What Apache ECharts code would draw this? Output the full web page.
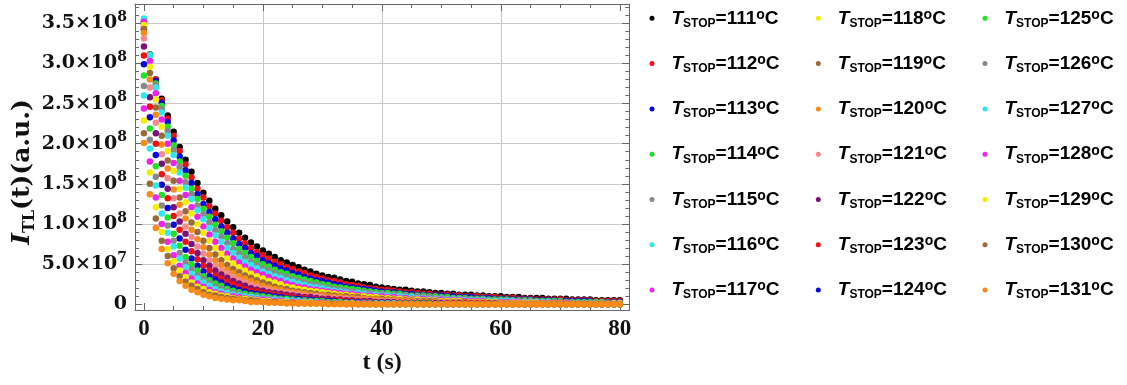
<!DOCTYPE html>
<html>
<head>
<meta charset="utf-8">
<script src="https://cdn.jsdelivr.net/npm/echarts@6.0.0/dist/echarts.min.js"></script>
<style>
html,body{margin:0;padding:0;background:#fff;}
#chart{width:1127px;height:385px;}
</style>
</head>
<body>
<div id="chart"></div>
<script>
// time axis (s)
const times = [
0,1,2,3,4,5,6,7,8,9,
10,11,12,13,14,15,16,17,18,19,
20,21,22,23,24,25,26,27,28,29,
30,31,32,33,34,35,36,37,38,39,
40,41,42,43,44,45,46,47,48,49,
50,51,52,53,54,55,56,57,58,59,
60,61,62,63,64,65,66,67,68,69,
70,71,72,73,74,75,76,77,78,79,
80];

// T_STOP values (°C)
const tStop = [111,112,113,114,115,116,117,118,119,120,121,122,123,124,125,126,127,128,129,130,131];

// I_TL(t) in units of 10^6 a.u.
const s111 = [
342,310,280,256,235,215,196,180,165,151,
139,129,119,111,103,96,89,83,77,72,
67,63,59,55,52,49,46,43,41,38,
36,34,33,31,29,28,26,25,24,22,
21,20,19,18,18,17,16,16,15,14,
14,13,13,12,12,12,11,11,10,10,
10,9,9,9,8,8,8,8,7,7,
7,7,6,6,6,6,5,5,5,5,
5];
const s112 = [
346,311,280,254,231,210,191,174,158,144,
133,122,113,104,96,89,82,76,70,65,
61,57,53,50,46,44,41,39,36,34,
32,30,29,27,25,24,23,21,20,19,
18,18,17,16,15,15,14,13,13,12,
12,12,11,11,10,10,10,9,9,9,
8,8,8,7,7,7,6,6,6,6,
6,5,5,5,5,5,4,4,4,4,
4];
const s113 = [
349,311,278,251,227,204,184,167,151,137,
125,115,106,97,89,82,75,70,64,60,
55,51,48,45,42,39,37,34,32,30,
29,27,25,24,22,21,20,19,18,17,
16,15,15,14,13,13,12,12,11,11,
11,10,10,9,9,9,8,8,8,7,
7,7,6,6,6,6,5,5,5,5,
4,4,4,4,4,4,3,3,3,3,
3];
const s114 = [
351,311,275,247,221,198,178,160,144,131,
119,109,99,91,83,76,69,64,59,54,
50,47,43,40,38,35,33,31,29,27,
25,24,22,21,20,19,18,17,16,15,
14,14,13,13,12,11,11,11,10,10,
9,9,8,8,8,7,7,7,6,6,
6,6,5,5,5,5,4,4,4,4,
4,3,3,3,3,3,3,3,2,2,
2];
const s115 = [
353,310,273,243,216,192,171,152,137,123,
112,102,92,84,76,69,63,58,53,49,
45,42,39,36,34,31,29,27,25,24,
22,21,19,18,17,16,15,15,14,13,
13,12,12,11,11,10,10,9,9,8,
8,7,7,7,7,6,6,6,5,5,
5,5,4,4,4,4,4,3,3,3,
3,3,3,2,2,2,2,2,2,2,
2];
const s116 = [
356,310,270,239,210,186,164,145,131,117,
106,95,86,78,70,64,58,53,49,45,
41,38,35,33,30,28,26,24,22,21,
20,18,17,16,15,14,14,13,12,12,
11,11,10,10,9,9,8,8,7,7,
7,6,6,6,5,5,5,5,4,4,
4,4,4,3,3,3,3,3,3,2,
2,2,2,2,2,2,2,2,1,1,
1];
const s117 = [
352,303,263,230,200,176,154,136,121,109,
97,87,78,70,63,57,52,47,43,40,
37,34,31,29,26,24,22,21,19,18,
17,16,15,14,13,13,12,11,11,10,
10,9,9,8,8,7,7,7,6,6,
6,5,5,5,4,4,4,4,3,3,
3,3,3,3,2,2,2,2,2,2,
2,2,1,1,1,1,1,1,1,1,
1];
const s118 = [
348,296,255,221,191,166,144,127,113,100,
89,79,70,63,57,51,46,42,38,35,
32,29,27,25,22,21,19,18,17,16,
15,14,13,12,12,11,10,10,9,9,
8,8,7,7,6,6,6,5,5,5,
4,4,4,4,3,3,3,3,3,3,
2,2,2,2,2,2,2,1,1,1,
1,1,1,1,1,1,1,1,1,1,
1];
const s119 = [
343,288,245,210,179,154,133,116,102,90,
79,70,62,55,49,44,40,36,33,30,
27,25,22,20,19,17,16,15,14,13,
12,12,11,10,10,9,9,8,7,7,
7,6,6,5,5,5,4,4,4,4,
3,3,3,3,3,2,2,2,2,2,
2,2,1,1,1,1,1,1,1,1,
1,1,1,1,1,1,1,1,1,0,
0];
const s120 = [
338,280,236,199,169,143,124,107,93,81,
71,62,55,49,43,39,35,32,29,26,
23,21,19,18,16,15,14,13,12,11,
11,10,9,9,8,8,7,7,6,6,
5,5,5,4,4,4,3,3,3,3,
3,2,2,2,2,2,2,2,1,1,
1,1,1,1,1,1,1,1,1,1,
1,0,0,0,0,0,0,0,0,0,
0];
const s121 = [
331,270,226,187,157,132,113,97,84,72,
63,55,48,42,38,34,30,27,24,22,
19,18,16,15,14,13,12,11,10,10,
9,8,8,7,7,6,6,5,5,4,
4,4,4,3,3,3,3,2,2,2,
2,2,2,1,1,1,1,1,1,1,
1,1,1,1,1,0,0,0,0,0,
0,0,0,0,0,0,0,0,0,0,
0];
const s122 = [
321,258,213,175,144,121,103,88,75,64,
55,48,42,37,33,29,26,23,20,18,
17,15,14,13,12,11,10,9,9,8,
7,7,6,6,5,5,4,4,4,3,
3,3,3,2,2,2,2,2,2,1,
1,1,1,1,1,1,1,1,1,1,
0,0,0,0,0,0,0,0,0,0,
0,0,0,0,0,0,0,0,0,0,
0];
const s123 = [
310,246,200,162,132,110,93,78,66,56,
48,42,36,32,28,25,22,19,17,16,
14,13,12,11,10,9,8,8,7,6,
6,5,5,5,4,4,4,3,3,3,
2,2,2,2,2,2,1,1,1,1,
1,1,1,1,1,1,1,1,1,0,
0,0,0,0,0,0,0,0,0,0,
0,0,0,0,0,0,0,0,0,0,
0];
const s124 = [
299,233,186,149,120,99,82,68,57,48,
41,35,31,27,23,20,18,16,14,13,
12,11,10,9,8,7,7,6,6,5,
5,4,4,3,3,3,3,2,2,2,
2,2,1,1,1,1,1,1,1,1,
1,0,0,0,0,0,0,0,0,0,
0,0,0,0,0,0,0,0,0,0,
0,0,0,0,0,0,0,0,0,0,
0];
const s125 = [
285,219,172,136,108,88,73,59,50,42,
35,30,26,23,19,17,15,13,12,11,
10,9,8,7,7,6,5,5,4,4,
4,3,3,3,2,2,2,2,2,1,
1,1,1,1,1,1,1,1,1,0,
0,0,0,0,0,0,0,0,0,0,
0,0,0,0,0,0,0,0,0,0,
0,0,0,0,0,0,0,0,0,0,
0];
const s126 = [
272,205,159,123,98,79,64,52,43,36,
31,26,22,19,16,14,13,11,10,9,
8,7,7,6,5,5,4,4,4,3,
3,2,2,2,2,2,1,1,1,1,
1,1,1,1,1,1,0,0,0,0,
0,0,0,0,0,0,0,0,0,0,
0,0,0,0,0,0,0,0,0,0,
0,0,0,0,0,0,0,0,0,0,
0];
const s127 = [
260,194,148,113,89,72,57,46,38,32,
27,23,19,16,14,12,11,10,9,8,
7,6,6,5,5,4,4,3,3,3,
2,2,2,2,1,1,1,1,1,1,
1,1,1,0,0,0,0,0,0,0,
0,0,0,0,0,0,0,0,0,0,
0,0,0,0,0,0,0,0,0,0,
0,0,0,0,0,0,0,0,0,0,
0];
const s128 = [
244,178,133,100,78,61,48,39,32,26,
22,18,15,13,11,10,9,8,7,6,
6,5,4,4,3,3,3,2,2,2,
2,1,1,1,1,1,1,1,1,0,
0,0,0,0,0,0,0,0,0,0,
0,0,0,0,0,0,0,0,0,0,
0,0,0,0,0,0,0,0,0,0,
0,0,0,0,0,0,0,0,0,0,
0];
const s129 = [
229,164,121,90,69,54,42,34,27,22,
19,15,13,11,10,8,7,7,6,5,
4,4,3,3,3,2,2,2,2,1,
1,1,1,1,1,1,0,0,0,0,
0,0,0,0,0,0,0,0,0,0,
0,0,0,0,0,0,0,0,0,0,
0,0,0,0,0,0,0,0,0,0,
0,0,0,0,0,0,0,0,0,0,
0];
const s130 = [
213,150,107,79,60,45,35,28,23,19,
15,12,11,9,8,7,6,5,5,4,
3,3,3,2,2,2,1,1,1,1,
1,1,1,1,0,0,0,0,0,0,
0,0,0,0,0,0,0,0,0,0,
0,0,0,0,0,0,0,0,0,0,
0,0,0,0,0,0,0,0,0,0,
0,0,0,0,0,0,0,0,0,0,
0];
const s131 = [
201,137,95,69,51,38,29,23,18,15,
12,10,8,7,6,5,5,4,3,3,
3,2,2,2,1,1,1,1,1,1,
1,0,0,0,0,0,0,0,0,0,
0,0,0,0,0,0,0,0,0,0,
0,0,0,0,0,0,0,0,0,0,
0,0,0,0,0,0,0,0,0,0,
0,0,0,0,0,0,0,0,0,0,
0];

const seriesValues = [s111,s112,s113,s114,s115,s116,s117,s118,s119,s120,s121,
                      s122,s123,s124,s125,s126,s127,s128,s129,s130,s131];

// tick values
const xMajorTicks = [0,20,40,60,80];
const xMinorTicks = [5,10,15,25,30,35,45,50,55,65,70,75];
const xGridLines = [20,40,60];
const yMajorTicks = [0,50,100,150,200,250,300,350];
const yMinorTicks = [10,20,30,40,60,70,80,90,110,120,130,140,160,170,180,190,210,220,230,240,260,270,280,290,310,320,330,340,360,370];
const yGridLines = [50,100,150,200,250,300,350];

const colors = ['#000000','#ee1111','#0a0ad8','#22e022','#888888','#2ee8ef','#ee22ee','#f3ee00','#9a6a3a','#f88a16','#f28c8c','#7a127a',
                '#ee1111','#0a0ad8','#22e022','#888888','#2ee8ef','#ee22ee','#f3ee00','#9a6a3a','#f88a16'];

const chart = echarts.init(document.getElementById('chart'), null, {renderer:'canvas'});

const X_MIN = -1.5, X_MAX = 81.6, Y_MIN = -7.1, Y_MAX = 374;
const FRAME = '#666666';
const GRID_W = 494.3, GRID_H = 306;

function xAx(pos, ticks, len, extra) {
  return Object.assign({
    type:'value', min:X_MIN, max:X_MAX, position:pos,
    axisLine:{show:false, onZero:false},
    axisTick:{show:true, inside:true, length:len, customValues:ticks, lineStyle:{color:FRAME, width:1}},
    axisLabel:{show:false},
    splitLine:{show:false}, z:1
  }, extra || {});
}
function yAx(pos, ticks, len, extra) {
  return Object.assign({
    type:'value', min:Y_MIN, max:Y_MAX, position:pos,
    axisLine:{show:false, onZero:false},
    axisTick:{show:true, inside:true, length:len, customValues:ticks, lineStyle:{color:FRAME, width:1}},
    axisLabel:{show:false},
    splitLine:{show:false}, z:1
  }, extra || {});
}

const frameLine = {show:true, onZero:false, lineStyle:{color:FRAME, width:1}};

const xAxes = [
  xAx('bottom', xGridLines, GRID_H, {z:0, axisTick:{show:true, inside:true, length:GRID_H, customValues:xGridLines, lineStyle:{color:'#c8c8c8', width:1}}}),
  xAx('bottom', xMajorTicks, 7, {
    axisLine:frameLine,
    axisLabel:{show:true, customValues:xMajorTicks, margin:8, fontFamily:'Liberation Serif', fontWeight:'bold', fontSize:23, color:'#111'},
    name:'t (s)', nameLocation:'middle', nameGap:41,
    nameTextStyle:{fontFamily:'Liberation Serif', fontWeight:'bold', fontSize:24, color:'#111'}
  }),
  xAx('bottom', xMinorTicks, 4),
  xAx('top', xMajorTicks, 7, {axisLine:frameLine}),
  xAx('top', xMinorTicks, 4)
];

const yLabelRich = {
  m:{fontFamily:'DejaVu Serif', fontWeight:'bold', fontSize:19, lineHeight:22, color:'#111'},
  e:{fontFamily:'DejaVu Serif', fontWeight:'bold', fontSize:14, height:10, verticalAlign:'top', color:'#111'}
};
function yFmt(v) {
  if (v === 0) return '{m|0}';
  if (v < 100) return '{m|' + (v/10).toFixed(1) + '\u00d710}{e|7}';
  return '{m|' + (v/100).toFixed(1) + '\u00d710}{e|8}';
}

const yAxes = [
  yAx('left', yGridLines, GRID_W, {z:0, axisTick:{show:true, inside:true, length:GRID_W, customValues:yGridLines, lineStyle:{color:'#c8c8c8', width:1}}}),
  yAx('left', yMajorTicks, 7, {
    axisLine:frameLine,
    axisLabel:{show:true, customValues:yMajorTicks, margin:8, formatter:yFmt, rich:yLabelRich}
  }),
  yAx('left', yMinorTicks, 4),
  yAx('right', yMajorTicks, 7, {axisLine:frameLine}),
  yAx('right', yMinorTicks, 4)
];

const series = tStop.map((T, i) => ({
  type:'scatter', name:String(T), xAxisIndex:1, yAxisIndex:1,
  symbol:'circle', symbolSize:6.5,
  itemStyle:{color:colors[i], opacity:1},
  data: times.map((t, j) => [t, seriesValues[i][j]]),
  z:2, silent:true, animation:false
}));

const legendRich = {
  g:{width:12, fontSize:19, lineHeight:22},
  t:{fontFamily:'Liberation Sans', fontWeight:'bold', fontStyle:'italic', fontSize:19, lineHeight:22, color:'#000'},
  s:{fontFamily:'Liberation Sans', fontWeight:'bold', fontSize:12, height:12, verticalAlign:'bottom', color:'#000'},
  n:{fontFamily:'Liberation Sans', fontWeight:'bold', fontSize:19, lineHeight:22, color:'#000'},
  o:{fontFamily:'Liberation Sans', fontWeight:'bold', fontSize:14, height:15, verticalAlign:'top', color:'#000'}
};
const legendLefts = [649.5, 815.8, 982.5];
const legends = legendLefts.map((lx, c) => ({
  orient:'vertical', left:lx, top:7.3, padding:0,
  itemWidth:5, itemHeight:5, itemGap:23.3, icon:'circle',
  selectedMode:false,
  data: tStop.slice(c*7, c*7+7).map(String),
  formatter: n => '{g| }{t|T}{s|STOP}{n|=' + n + '}{o|o}{n|C}',
  textStyle:{rich:legendRich, fontSize:19, lineHeight:22}
}));

chart.setOption({
  backgroundColor:'#ffffff',
  animation:false,
  grid:{left:135, top:4, width:GRID_W, height:GRID_H, containLabel:false},
  xAxis:xAxes,
  yAxis:yAxes,
  legend:legends,
  graphic:[{
    type:'text', x:22, y:172, rotation:Math.PI/2,
    style:{
      text:'{i|I}{s|TL}{n|(t)(a.u.)}',
      align:'center', verticalAlign:'middle',
      rich:{
        i:{fontFamily:'DejaVu Serif', fontWeight:'bold', fontStyle:'italic', fontSize:25, lineHeight:30, fill:'#111', color:'#111'},
        s:{fontFamily:'DejaVu Serif', fontWeight:'bold', fontSize:16, height:14, verticalAlign:'bottom', fill:'#111', color:'#111'},
        n:{fontFamily:'DejaVu Serif', fontWeight:'bold', fontSize:25, lineHeight:30, fill:'#111', color:'#111'}
      }
    }
  }],
  series:series
});
</script>
</body>
</html>
